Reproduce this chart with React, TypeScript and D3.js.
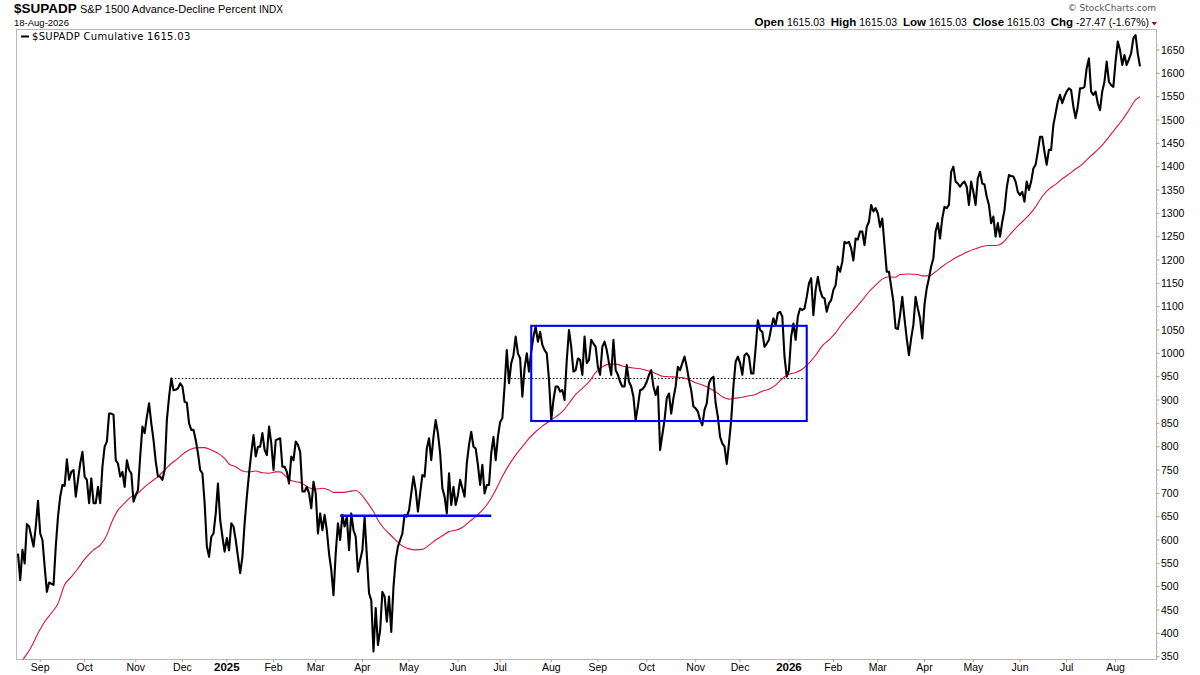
import * as d3 from "d3";

// $SUPADP cumulative, [trading day, value] (day 0 = 19-Aug-2024)
const cumulative: [number, number][] = [
  [0, 571], [1, 514], [2, 579], [3, 550], [4, 634], [5, 629], [7, 586], [8, 629], [9, 684], [10, 614],
  [11, 600], [12, 543], [13, 489], [14, 509], [16, 504], [17, 586], [18, 650], [19, 693], [20, 718], [21, 716],
  [22, 773], [23, 729], [24, 746], [25, 750], [26, 693], [27, 729], [28, 764], [29, 789], [30, 736], [31, 729],
  [32, 679], [33, 732], [34, 679], [35, 679], [36, 714], [37, 679], [38, 757], [39, 800], [40, 811], [41, 871],
  [42, 871], [43, 868], [44, 771], [45, 764], [46, 736], [47, 746], [48, 714], [49, 771], [50, 750], [51, 743],
  [52, 682], [53, 696], [54, 707], [55, 779], [56, 843], [57, 829], [58, 864], [59, 893], [60, 850], [61, 814],
  [62, 768], [63, 736], [64, 736], [65, 729], [66, 750], [67, 857], [68, 907], [69, 946], [70, 921], [71, 922],
  [72, 925], [73, 936], [74, 929], [75, 896], [76, 894], [77, 850], [78, 836], [79, 836], [80, 814], [81, 786],
  [82, 750], [83, 743], [84, 679], [85, 586], [86, 564], [87, 607], [88, 614], [89, 657], [90, 721], [91, 643],
  [92, 607], [93, 575], [94, 604], [95, 578], [96, 636], [97, 629], [98, 600], [99, 564], [100, 529], [101, 564],
  [102, 636], [103, 693], [104, 743], [105, 786], [106, 825], [107, 779], [108, 800], [109, 800], [110, 829], [111, 793],
  [112, 782], [113, 843], [114, 807], [115, 750], [116, 814], [118, 818], [119, 757], [120, 757], [121, 746], [122, 721],
  [123, 779], [124, 771], [125, 811], [126, 804], [127, 789], [128, 704], [129, 704], [130, 714], [131, 700], [132, 668],
  [133, 725], [134, 700], [135, 614], [136, 657], [137, 621], [138, 654], [139, 621], [140, 571], [141, 536], [142, 482],
  [143, 571], [144, 636], [145, 600], [146, 654], [147, 629], [148, 650], [149, 578], [150, 657], [151, 621], [152, 607],
  [153, 532], [154, 557], [155, 578], [156, 649], [158, 486], [159, 471], [160, 361], [161, 454], [162, 375], [163, 407],
  [164, 489], [165, 479], [166, 425], [167, 479], [168, 403], [169, 500], [170, 557], [171, 586], [172, 600], [173, 614],
  [174, 654], [175, 650], [176, 664], [178, 736], [179, 707], [180, 661], [181, 700], [182, 739], [183, 736], [184, 796],
  [185, 818], [186, 771], [187, 821], [188, 857], [189, 829], [190, 786], [191, 711], [192, 693], [193, 657], [194, 743],
  [195, 675], [196, 714], [197, 675], [198, 696], [199, 729], [200, 711], [201, 693], [202, 764], [203, 804], [204, 832],
  [205, 800], [206, 796], [207, 761], [208, 718], [209, 761], [210, 700], [211, 718], [212, 718], [213, 786], [214, 821],
  [215, 771], [216, 821], [217, 853], [218, 861], [219, 929], [220, 1007], [221, 936], [222, 979], [223, 996], [224, 1036],
  [225, 1000], [226, 989], [227, 907], [228, 968], [229, 1000], [230, 961], [231, 1004], [232, 1036], [233, 1057], [234, 1025],
  [235, 1046], [236, 1018], [237, 1007], [238, 1000], [239, 943], [240, 857], [241, 900], [242, 929], [243, 929], [244, 918],
  [245, 921], [246, 900], [247, 986], [248, 1050], [249, 1014], [250, 961], [251, 964], [252, 989], [253, 986], [254, 954],
  [255, 1036], [256, 979], [257, 986], [258, 1029], [259, 1021], [260, 1014], [261, 971], [262, 954], [263, 1014], [264, 1025],
  [265, 1007], [266, 979], [267, 954], [268, 1029], [269, 964], [270, 954], [271, 939], [272, 929], [273, 929], [274, 975],
  [275, 939], [276, 929], [277, 907], [278, 857], [279, 886], [280, 921], [281, 923], [282, 929], [283, 939], [284, 954],
  [285, 964], [286, 929], [287, 911], [288, 929], [289, 793], [290, 825], [291, 857], [292, 904], [293, 914], [294, 871],
  [295, 904], [296, 929], [297, 971], [298, 964], [299, 979], [300, 993], [301, 971], [302, 943], [303, 921], [304, 886],
  [305, 882], [306, 875], [307, 857], [308, 846], [309, 879], [310, 893], [311, 936], [312, 946], [313, 950], [314, 893],
  [315, 864], [316, 821], [317, 807], [318, 800], [319, 763], [320, 807], [321, 857], [322, 929], [323, 982], [324, 993],
  [325, 979], [326, 954], [327, 996], [328, 1000], [329, 993], [330, 957], [331, 957], [332, 1011], [333, 1071], [334, 1050],
  [335, 1046], [336, 1014], [337, 1021], [338, 1029], [339, 1054], [340, 1075], [341, 1061], [342, 1086], [343, 1089], [344, 1079],
  [345, 993], [346, 950], [347, 964], [348, 1036], [349, 1064], [350, 1029], [351, 1079], [352, 1096], [353, 1093], [354, 1096],
  [355, 1121], [356, 1150], [357, 1161], [358, 1082], [359, 1136], [360, 1164], [361, 1136], [362, 1121], [363, 1118], [364, 1089],
  [365, 1107], [366, 1114], [367, 1136], [368, 1146], [369, 1186], [370, 1175], [371, 1196], [372, 1239], [373, 1236], [374, 1239],
  [375, 1225], [376, 1199], [377, 1246], [378, 1244], [379, 1261], [380, 1261], [381, 1232], [382, 1271], [383, 1282], [384, 1318],
  [385, 1304], [386, 1311], [387, 1300], [388, 1271], [389, 1289], [390, 1232], [391, 1175], [392, 1175], [393, 1143], [394, 1111],
  [395, 1054], [396, 1052], [397, 1082], [398, 1121], [399, 1075], [400, 1032], [401, 996], [402, 1032], [403, 1061], [404, 1121],
  [405, 1096], [406, 1075], [407, 1032], [408, 1104], [409, 1139], [410, 1161], [411, 1186], [412, 1204], [413, 1261], [414, 1279],
  [415, 1246], [416, 1289], [417, 1314], [418, 1311], [419, 1318], [420, 1389], [421, 1400], [422, 1368], [423, 1364], [424, 1357],
  [425, 1364], [426, 1368], [427, 1357], [428, 1318], [429, 1368], [430, 1346], [431, 1318], [432, 1375], [433, 1389], [434, 1364],
  [435, 1362], [436, 1336], [437, 1318], [438, 1279], [439, 1293], [440, 1250], [441, 1279], [442, 1250], [443, 1282], [444, 1307],
  [445, 1354], [446, 1382], [447, 1380], [448, 1379], [449, 1368], [450, 1346], [451, 1339], [452, 1346], [453, 1325], [454, 1368],
  [455, 1350], [456, 1368], [457, 1396], [458, 1404], [459, 1432], [460, 1464], [461, 1464], [462, 1432], [463, 1404], [464, 1436],
  [465, 1436], [466, 1489], [467, 1514], [468, 1539], [469, 1554], [470, 1536], [471, 1550], [472, 1561], [473, 1568], [474, 1564],
  [475, 1529], [476, 1504], [477, 1529], [478, 1568], [479, 1568], [480, 1571], [481, 1611], [482, 1632], [483, 1561], [484, 1554],
  [485, 1561], [486, 1536], [487, 1521], [488, 1561], [489, 1582], [490, 1625], [491, 1582], [492, 1575], [493, 1571], [494, 1625],
  [495, 1668], [496, 1650], [497, 1618], [498, 1639], [499, 1618], [500, 1630], [501, 1643], [502, 1675], [503, 1682], [504, 1642.5],
  [505, 1615.03],
];

// red moving average overlay
const movingAvg: [number, number][] = [
  [0, 327], [3, 349], [6, 371], [9, 400], [12, 425], [15, 443], [18, 464], [21, 504], [24, 521], [27, 539],
  [30, 559], [34, 579], [37, 589], [40, 611], [42, 636], [45, 664], [48, 679], [51, 693], [54, 700], [57, 714],
  [60, 725], [63, 736], [66, 750], [69, 764], [72, 775], [75, 787], [78, 795], [81, 798], [84, 798], [87, 793],
  [90, 786], [93, 775], [95, 763], [98, 757], [101, 748], [104, 746], [107, 748], [110, 744], [113, 743], [116, 746],
  [118, 746], [120, 739], [122, 729], [125, 725], [127, 723], [129, 718], [131, 712], [134, 709], [137, 711], [140, 707],
  [142, 702], [146, 702], [149, 704], [152, 706], [154, 700], [157, 682], [160, 661], [162, 643], [164, 629], [167, 614],
  [170, 600], [173, 587], [176, 581], [179, 579], [182, 580], [185, 589], [188, 600], [191, 609], [194, 618], [197, 621],
  [200, 627], [203, 639], [206, 650], [209, 664], [212, 682], [215, 707], [218, 736], [221, 761], [224, 782], [227, 800],
  [230, 818], [233, 832], [236, 844], [239, 854], [242, 864], [245, 875], [248, 893], [251, 912], [254, 925], [257, 939],
  [260, 959], [263, 971], [266, 977], [269, 977], [272, 973], [275, 970], [278, 968], [281, 966], [284, 962], [287, 957],
  [290, 951], [293, 950], [296, 949], [299, 948], [302, 944], [305, 937], [308, 932], [311, 926], [314, 918], [317, 907],
  [320, 902], [323, 904], [326, 906], [329, 909], [332, 912], [335, 919], [338, 923], [341, 932], [344, 946], [347, 955],
  [350, 959], [353, 966], [356, 979], [359, 996], [362, 1016], [365, 1029], [368, 1044], [371, 1064], [374, 1081], [377, 1097],
  [380, 1114], [383, 1132], [386, 1146], [389, 1159], [392, 1164], [395, 1163], [397, 1169], [401, 1170], [405, 1169], [407, 1166],
  [410, 1166], [413, 1175], [416, 1186], [419, 1196], [422, 1205], [425, 1212], [428, 1219], [431, 1224], [434, 1229], [437, 1231],
  [440, 1231], [443, 1236], [446, 1252], [449, 1268], [452, 1282], [455, 1296], [458, 1314], [461, 1336], [464, 1352], [467, 1362],
  [470, 1374], [473, 1384], [476, 1395], [479, 1405], [482, 1419], [485, 1432], [488, 1446], [491, 1464], [494, 1482], [497, 1500],
  [500, 1521], [503, 1543], [505, 1550],
];

// month labels at the first trading day of each month
const monthTicks: { label: string; day: number; bold?: boolean }[] = [
  { label: "Sep", day: 10 }, { label: "Oct", day: 30 }, { label: "Nov", day: 53 }, { label: "Dec", day: 74 },
  { label: "2025", day: 94, bold: true }, { label: "Feb", day: 115 }, { label: "Mar", day: 134 }, { label: "Apr", day: 155 },
  { label: "May", day: 176 }, { label: "Jun", day: 198 }, { label: "Jul", day: 217 }, { label: "Aug", day: 240 },
  { label: "Sep", day: 261 }, { label: "Oct", day: 283 }, { label: "Nov", day: 305 }, { label: "Dec", day: 325 },
  { label: "2026", day: 347, bold: true }, { label: "Feb", day: 367 }, { label: "Mar", day: 387 }, { label: "Apr", day: 408 },
  { label: "May", day: 430 }, { label: "Jun", day: 451 }, { label: "Jul", day: 472 }, { label: "Aug", day: 494 },
];

const yTicks = d3.range(350, 1651, 50);
const yMinor = d3.range(350, 1661, 10);

// drawn annotations
const priorHigh = { from: 69, to: 354, value: 946 };
const supportLine = { from: 145, to: 213, value: 652 };
const rangeBox = { from: 231, to: 355, top: 1059, bottom: 855 };

const quote = [
  { label: "Open", value: "1615.03" },
  { label: "High", value: "1615.03" },
  { label: "Low", value: "1615.03" },
  { label: "Close", value: "1615.03" },
  { label: "Chg", value: "-27.47 (-1.67%)" },
];

const W = 1200;
const H = 675;
const frame = { left: 16.5, top: 29.5, right: 1156.5, bottom: 659.5 };
const sans = "'Liberation Sans', Arial, sans-serif";
const wide = "'DejaVu Sans', Verdana, sans-serif";

export default function App() {
  const x = d3.scaleLinear().domain([0, 505]).range([18, 1140]);
  const y = d3.scaleLinear().domain([350, 1650]).range([656.7, 50]);

  const line = d3
    .line<[number, number]>()
    .x((d) => x(d[0]))
    .y((d) => y(d[1]));
  const smooth = d3
    .line<[number, number]>()
    .x((d) => x(d[0]))
    .y((d) => y(d[1]))
    .curve(d3.curveMonotoneX);

  return (
    <svg
      width={W}
      height={H}
      viewBox={`0 0 ${W} ${H}`}
      style={{ position: "absolute", left: 0, top: 0, background: "#fff" }}
    >
      <defs>
        <clipPath id="plotClip">
          <rect x={frame.left} y={frame.top} width={frame.right - frame.left} height={frame.bottom - frame.top} />
        </clipPath>
      </defs>

      {/* header */}
      <text x={14} y={12.5} fontFamily={sans} fontSize={13.5} fontWeight="bold" fill="#000">$SUPADP</text>
      <text x={80} y={12.5} fontFamily={sans} fontSize={11} fill="#000">
        S&amp;P 1500 Advance-Decline Percent <tspan fontSize={10}>INDX</tspan>
      </text>
      <text x={14} y={25.5} fontFamily={sans} fontSize={9.5} fill="#000">18-Aug-2026</text>

      <text x={1156} y={11} textAnchor="end" fontFamily={wide} fontSize={9} fill="#555">© StockCharts.com</text>
      <text x={1149} y={26} textAnchor="end" fontFamily={sans} fontSize={10.5} fill="#000" style={{ whiteSpace: "pre" }}>
        {quote.map((q, i) => (
          <tspan key={q.label}>
            <tspan fontWeight="bold" fontSize={11.5}>{q.label}</tspan>
            {` ${q.value}${i < quote.length - 1 ? "  " : ""}`}
          </tspan>
        ))}
      </text>
      <path d="M1151.5,22 L1157,22 L1154.25,25.5 Z" fill="#8b0a2a" />

      {/* frame */}
      <rect
        x={frame.left}
        y={frame.top}
        width={frame.right - frame.left}
        height={frame.bottom - frame.top}
        fill="none"
        stroke="#b8b8b8"
        strokeWidth={1}
      />

      {/* y axis on the right */}
      {yMinor.map((v) => (
        <line key={`m${v}`} x1={frame.right} x2={frame.right + 1.5} y1={y(v)} y2={y(v)} stroke="#c8c8c8" strokeWidth={1} />
      ))}
      {yTicks.map((v) => (
        <g key={v}>
          <line x1={frame.right} x2={frame.right + 3} y1={y(v)} y2={y(v)} stroke="#a0a0a0" strokeWidth={1} />
          <text x={1161} y={y(v)} dy="0.35em" fontFamily={sans} fontSize={10.5} fill="#000">{v}</text>
        </g>
      ))}

      {/* x axis */}
      {monthTicks.map((t) => (
        <g key={`${t.label}${t.day}`}>
          <line x1={x(t.day)} x2={x(t.day)} y1={frame.bottom} y2={frame.bottom + 2.5} stroke="#a0a0a0" strokeWidth={1} />
          <text
            x={x(t.day)}
            y={671}
            textAnchor="middle"
            fontFamily={sans}
            fontSize={t.bold ? 11.5 : 10.5}
            fontWeight={t.bold ? "bold" : "normal"}
            fill="#000"
          >
            {t.label}
          </text>
        </g>
      ))}

      <g clipPath="url(#plotClip)">
        {/* prior high dotted line */}
        <line
          x1={x(priorHigh.from)}
          x2={x(priorHigh.to)}
          y1={y(priorHigh.value)}
          y2={y(priorHigh.value)}
          stroke="#000"
          strokeWidth={1}
          strokeDasharray="1.5,2"
        />

        <path d={smooth(movingAvg) ?? ""} fill="none" stroke="#dc143c" strokeWidth={1.1} />
        <path d={line(cumulative) ?? ""} fill="none" stroke="#000" strokeWidth={2.1} strokeLinejoin="round" />

        {/* support line and consolidation box */}
        <line
          x1={x(supportLine.from)}
          x2={x(supportLine.to)}
          y1={y(supportLine.value)}
          y2={y(supportLine.value)}
          stroke="#0000ff"
          strokeWidth={2.3}
        />
        <rect
          x={x(rangeBox.from)}
          y={y(rangeBox.top)}
          width={x(rangeBox.to) - x(rangeBox.from)}
          height={y(rangeBox.bottom) - y(rangeBox.top)}
          fill="none"
          stroke="#0000ff"
          strokeWidth={2.1}
        />
      </g>

      {/* legend */}
      <line x1={21} x2={29} y1={36.5} y2={36.5} stroke="#000" strokeWidth={2} />
      <text x={32} y={40} fontFamily={wide} fontSize={10} letterSpacing={0.3} fill="#000">$SUPADP Cumulative 1615.03</text>
    </svg>
  );
}
